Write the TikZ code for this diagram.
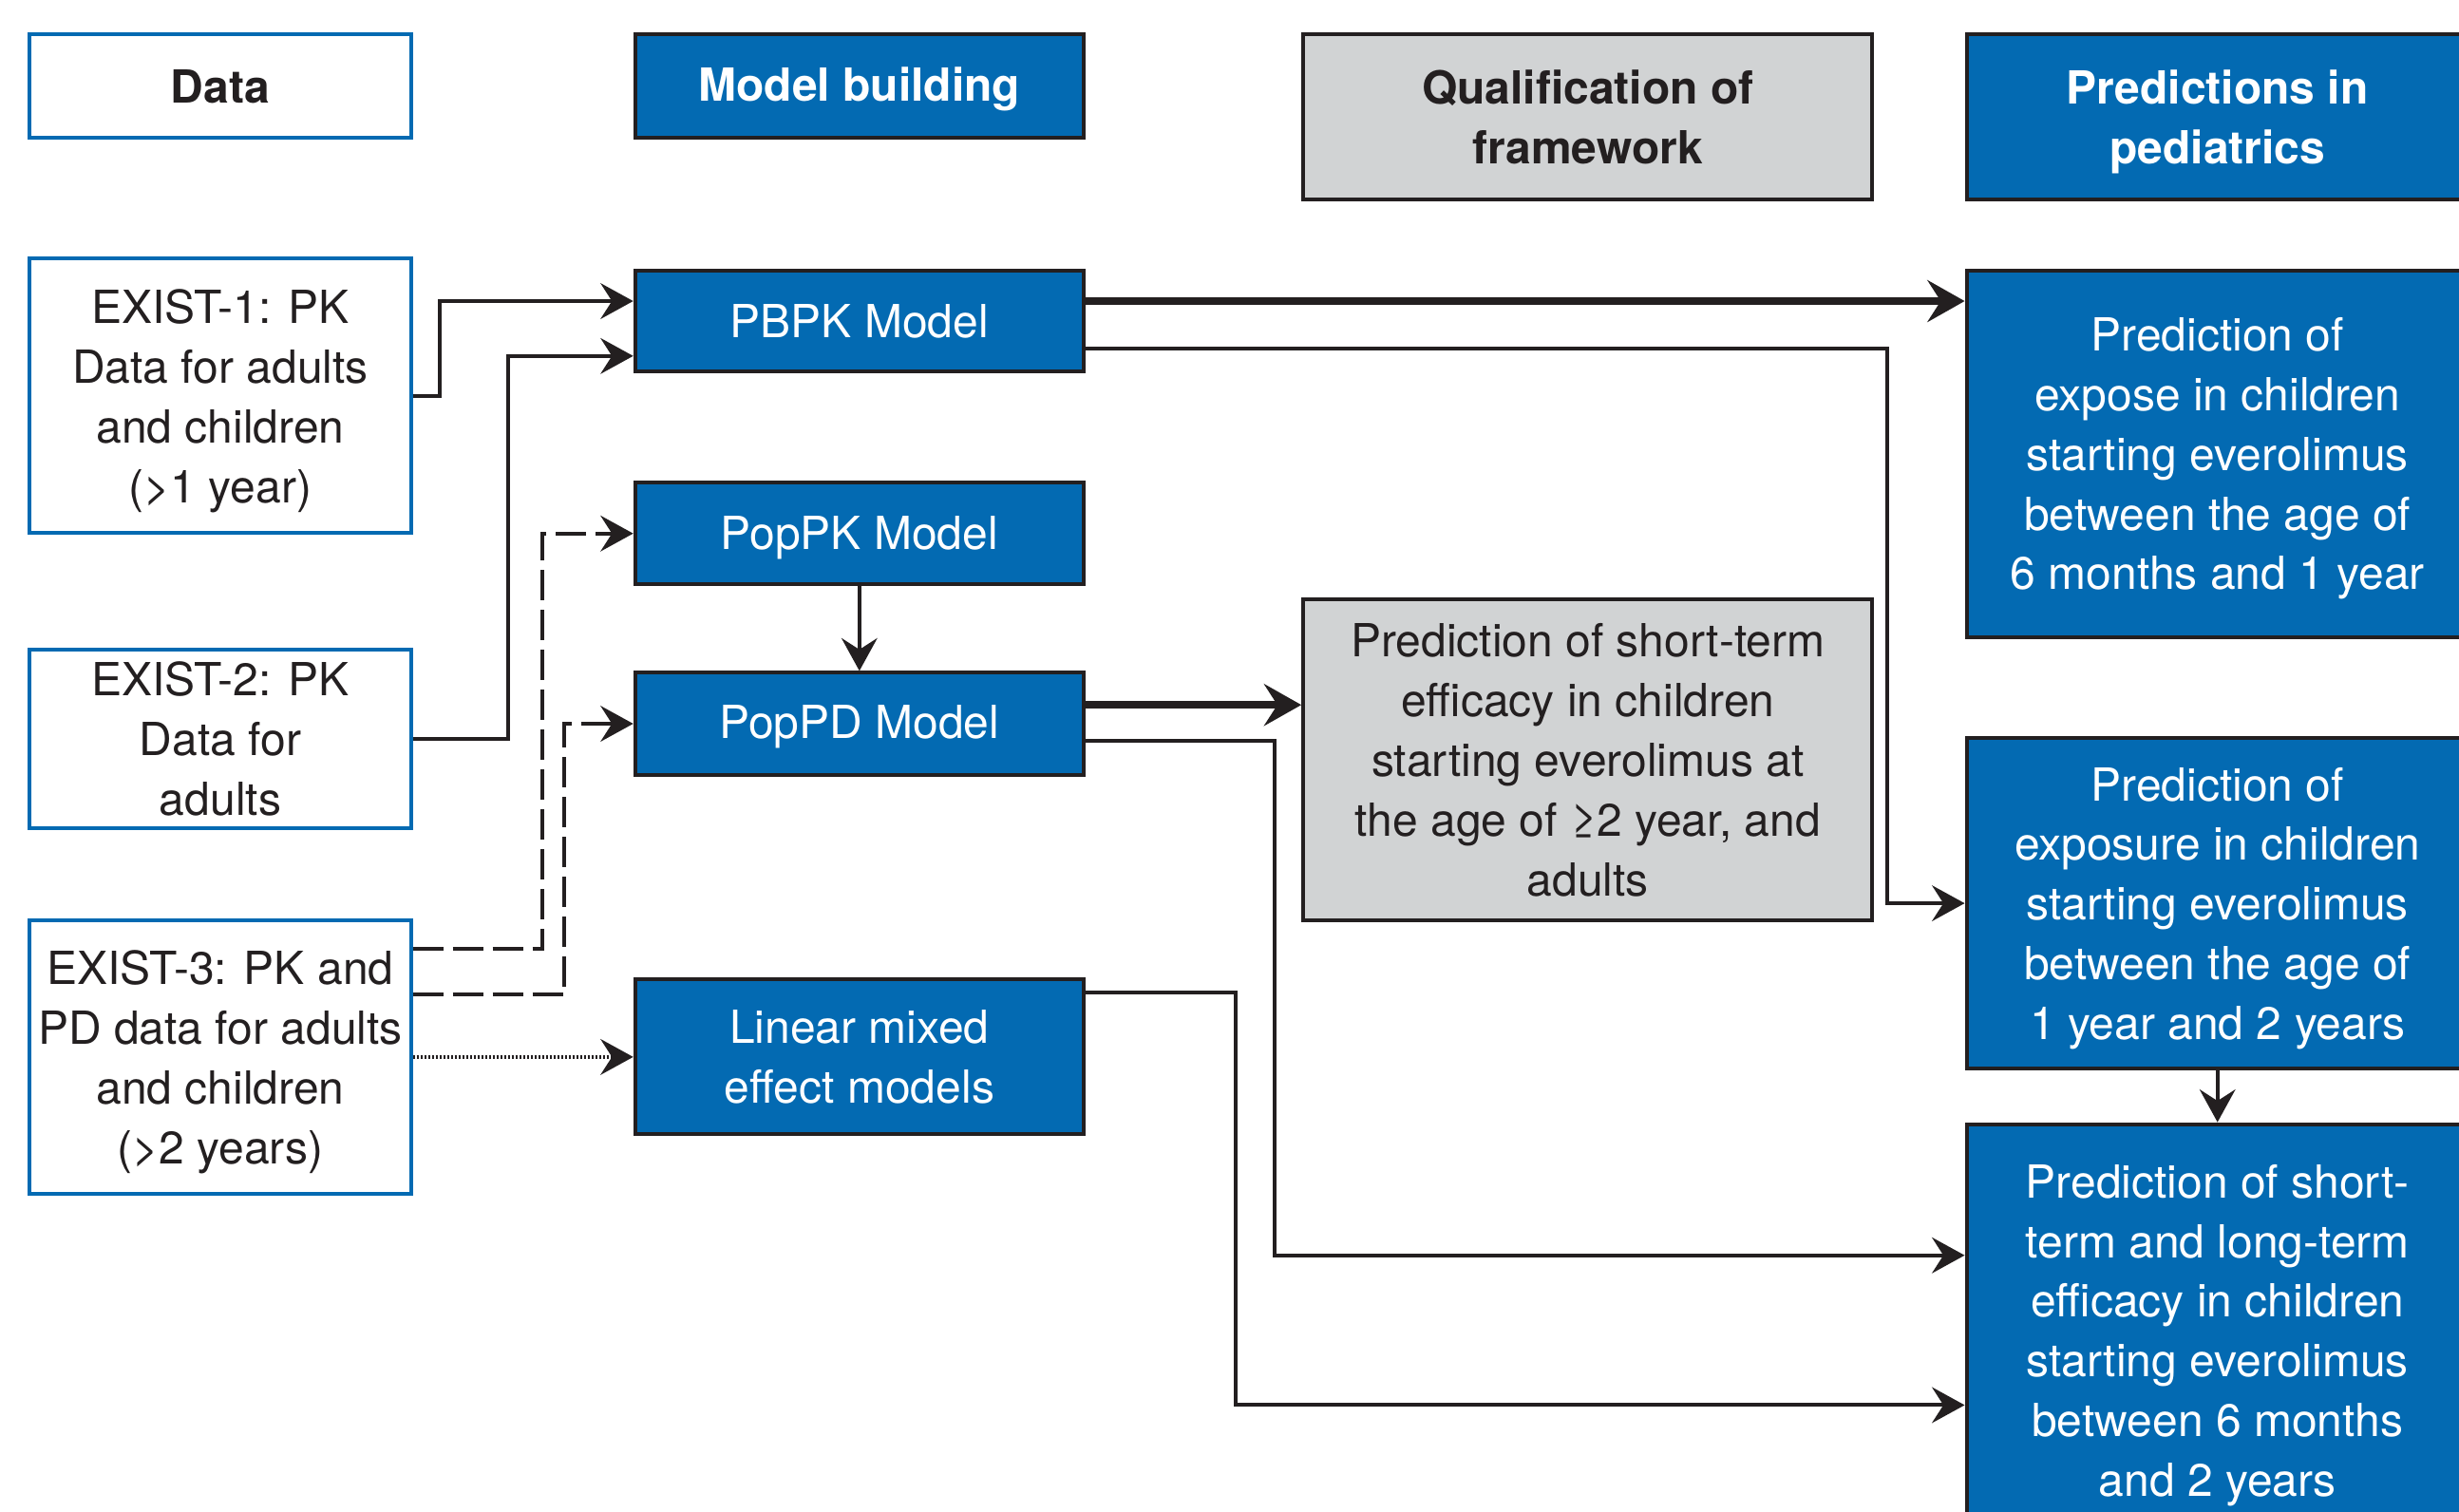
\documentclass[tikz,border=0pt]{standalone}
\usepackage{fontspec}
\setmainfont{TeX Gyre Heros}
\usetikzlibrary{arrows.meta}
\definecolor{blu}{RGB}{3,106,178}
\definecolor{gry}{RGB}{209,211,212}
\definecolor{drk}{RGB}{35,31,32}
\begin{document}
\begin{tikzpicture}[x=0.41279pt,y=-0.41279pt,
  base/.style={rectangle,inner sep=0pt,align=center,line width=1pt,font=\fontsize{12}{15.7}\selectfont},
  whitebox/.style={base,draw=blu,fill=white,text=drk},
  bluebox/.style={base,draw=drk,fill=blu,text=white},
  graybox/.style={base,draw=drk,fill=gry,text=drk},
  hdr/.style={font=\fontsize{12}{15.7}\selectfont\bfseries},
  colA/.style={minimum width=100.31pt},
  colB/.style={minimum width=118.06pt},
  colC/.style={minimum width=149.84pt},
  colD/.style={minimum width=132.09pt},
  conn/.style={draw=drk,line width=1pt,-{Stealth[length=8.6pt,width=9.4pt,inset=3pt]}},
  bigconn/.style={draw=drk,line width=1.9pt,-{Stealth[length=9.8pt,width=11pt,inset=3.5pt]}},
  dashconn/.style={conn,dash pattern=on 8pt off 2.5pt},
  dotconn/.style={conn,dash pattern=on 0.5pt off 0.5pt},
]
\useasboundingbox (0,0) rectangle (1568,964);
\clip (0,0) rectangle (1568,964);
\fill[white] (0,0) rectangle (1568,964);

% headers
\node[whitebox,hdr,colA,minimum height=27.24pt] (hdata) at (140.5,55) {Data};
\node[bluebox,hdr,colB,minimum height=27.24pt,text depth=1pt] (hmodel) at (548,55) {Model building};
\node[graybox,hdr,colC,minimum height=43.34pt] (hqual) at (1012.5,74.5) {Qualification of\\framework};
\node[bluebox,hdr,colD,minimum height=43.34pt,text depth=-0.7pt] (hpred) at (1414,74.5) {Predictions in\\pediatrics};

% data boxes
\node[whitebox,colA,minimum height=72.24pt,text depth=-1.9pt] (e1) at (140.5,252.5) {EXIST-1: PK\\Data for adults\\and children\\(>1 year)};
\node[whitebox,colA,minimum height=47.06pt,text depth=-1.6pt] (e2) at (140.5,471) {EXIST-2: PK\\Data for\\adults};
\node[whitebox,colA,minimum height=71.83pt,text depth=-1.1pt] (e3) at (140.5,674) {EXIST-3: PK and\\PD data for adults\\and children\\(>2 years)};

% models
\node[bluebox,colB,minimum height=26.63pt] (pbpk) at (548,204.8) {PBPK Model};
\node[bluebox,colB,minimum height=26.63pt,text depth=0.2pt] (popk) at (548,340.2) {PopPK Model};
\node[bluebox,colB,minimum height=26.83pt,text depth=1pt] (popd) at (548,461.5) {PopPD Model};
\node[bluebox,colB,minimum height=40.66pt] (lin) at (548,673.75) {Linear mixed\\effect models};

% qualification
\node[graybox,colC,minimum height=84.62pt,text depth=-3pt] (gp) at (1012.5,484.5) {Prediction of short-term\\efficacy in children\\starting everolimus at\\the age of ≥2 year, and\\adults};

% predictions
\node[bluebox,colD,minimum height=96.51pt,text depth=0.1pt] (b1) at (1414,289.5) {Prediction of\\expose in children\\starting everolimus\\between the age of\\6 months and 1 year};
\node[bluebox,colD,minimum height=86.98pt,text depth=-2.4pt] (b2) at (1414,576) {Prediction of\\exposure in children\\starting everolimus\\between the age of\\1 year and 2 years};
\node[bluebox,colD,minimum height=108.65pt,text depth=0.1pt] (b3) at (1414,848.4) {Prediction of short-\\term and long-term\\efficacy in children\\starting everolimus\\between 6 months\\and 2 years};

% connectors
\draw[conn] (e1.east) -| (280.4,192) -- (pbpk.west |- 0,192);
\draw[conn] (e2.east) -| (324,227) -- (pbpk.west |- 0,227);
\draw[dashconn] (e3.east |- 0,605) -| (346,340.2) -- (popk.west);
\draw[dashconn] (e3.east |- 0,634) -| (360,461.5) -- (popd.west);
\draw[dotconn] (e3.east) -- (lin.west |- e3.east);
\draw[conn] (popk.south) -- (popd.north);
\draw[bigconn] (pbpk.east |- 0,192) -- (b1.west |- 0,192);
\draw[conn] (pbpk.east |- 0,222) -| (1203.6,576) -- (b2.west);
\draw[bigconn] (popd.east |- 0,449.5) -- (gp.west |- 0,449.5);
\draw[conn] (popd.east |- 0,472.4) -| (813,800.5) -- (b3.west |- 0,800.5);
\draw[conn] (lin.east |- 0,633) -| (788,896) -- (b3.west |- 0,896);
\draw[conn] (b2.south) -- (b3.north);
\end{tikzpicture}
\end{document}
